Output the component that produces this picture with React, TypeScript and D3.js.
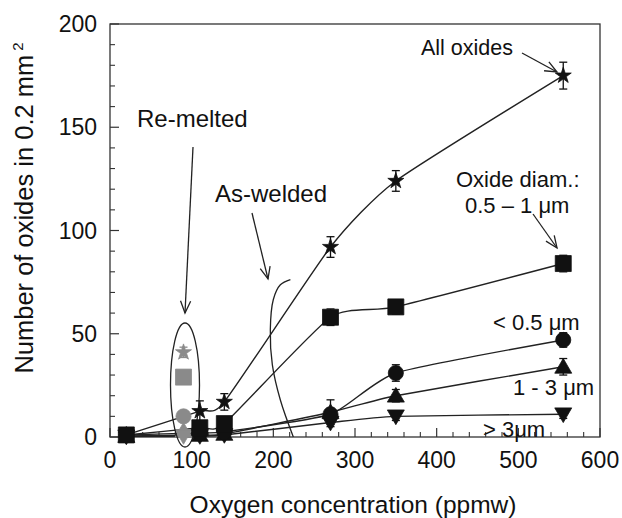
import React from "react";
import * as d3 from "d3";

// ---- data ----
const oxygen = [20, 110, 140, 270, 350, 555];
const allOxides = [1, 12.5, 17, 92, 124, 175];
const allOxidesErr = [0, 5, 4, 5, 5, 6.5];
const diam05to1 = [1, 4.5, 6.5, 58, 63, 84];
const diam05to1Err = [0, 3, 3, 4, 3.5, 4];
const diamBelow05 = [1, 2, 2.5, 11, 31, 47];
const diamBelow05Err = [0, 1, 1, 3, 4, 3.5];
const diam1to3 = [0.5, 1, 1.5, 12, 20, 34];
const diam1to3Err = [0, 1, 1, 6, 3, 4];
const diamAbove3 = [0.3, 0.5, 1, 7, 10, 11];
const diamAbove3Err = [0, 0.5, 0.5, 2, 2, 2];

const remeltedX = 90;
const remeltedValues = [41, 29, 10, 3, 0.5]; // star, square, circle, triangle, inverted triangle
const remeltedErr = [2.5, 0, 0, 0, 0];

const xTickValues = [0, 100, 200, 300, 400, 500, 600];
const yTickValues = [0, 50, 100, 150, 200];

// As-welded bracket curve (data coords)
const asWeldedX = [220.9, 208.6, 200, 196.3, 198.8, 208.6, 224.5];
const asWeldedY = [76.2, 73.7, 66.6, 51.9, 34.9, 17.9, 0];

const W = 622;
const H = 518;
const x = d3.scaleLinear().domain([0, 600]).range([110, 600]);
const y = d3.scaleLinear().domain([0, 200]).range([437, 24]);

type Shape = "star" | "square" | "circle" | "triangle" | "invtri";

const symbolPath = (shape: Shape): string => {
  switch (shape) {
    case "star":
      return d3.symbol(d3.symbolStar, 80)() as string;
    case "square":
      return d3.symbol(d3.symbolSquare, 256)() as string;
    case "circle":
      return d3.symbol(d3.symbolCircle, 180)() as string;
    case "triangle":
    case "invtri":
      return d3.symbol(d3.symbolTriangle, 125)() as string;
  }
};

const series: { vals: number[]; err: number[]; shape: Shape }[] = [
  { vals: diamAbove3, err: diamAbove3Err, shape: "invtri" },
  { vals: diam1to3, err: diam1to3Err, shape: "triangle" },
  { vals: diamBelow05, err: diamBelow05Err, shape: "circle" },
  { vals: allOxides, err: allOxidesErr, shape: "star" },
  { vals: diam05to1, err: diam05to1Err, shape: "square" },
];

const lineGen = d3
  .line<[number, number]>()
  .x((d) => x(d[0]))
  .y((d) => y(d[1]))
  .curve(d3.curveCardinal.tension(0.45));

const bracketGen = d3
  .line<[number, number]>()
  .x((d) => x(d[0]))
  .y((d) => y(d[1]))
  .curve(d3.curveCatmullRom);

const FONT = "'Liberation Sans', Arial, Helvetica, sans-serif";

function Arrow({ x1, y1, x2, y2 }: { x1: number; y1: number; x2: number; y2: number }) {
  const ang = Math.atan2(y2 - y1, x2 - x1);
  const L = 13;
  const a = 0.4;
  const p1 = [x2 - L * Math.cos(ang - a), y2 - L * Math.sin(ang - a)];
  const p2 = [x2 - L * Math.cos(ang + a), y2 - L * Math.sin(ang + a)];
  return (
    <g stroke="#222" strokeWidth={1.3} fill="none">
      <line x1={x1} y1={y1} x2={x2} y2={y2} />
      <polyline points={`${p1[0]},${p1[1]} ${x2},${y2} ${p2[0]},${p2[1]}`} />
    </g>
  );
}

function Marker({ cx, cy, shape, fill }: { cx: number; cy: number; shape: Shape; fill: string }) {
  const rot = shape === "invtri" ? 180 : 0;
  const dy = shape === "triangle" ? 1.5 : shape === "invtri" ? -1.5 : 0;
  return (
    <path
      d={symbolPath(shape)}
      transform={`translate(${cx},${cy + dy}) rotate(${rot})`}
      fill={fill}
      stroke={fill}
      strokeWidth={0.8}
    />
  );
}

function ErrBar({ cx, v, e, color }: { cx: number; v: number; e: number; color: string }) {
  if (e <= 0) return null;
  const top = y(v + e);
  const bot = y(Math.max(0, v - e));
  return (
    <g stroke={color} strokeWidth={1.3}>
      <line x1={cx} x2={cx} y1={top} y2={bot} />
      <line x1={cx - 4} x2={cx + 4} y1={top} y2={top} />
      <line x1={cx - 4} x2={cx + 4} y1={bot} y2={bot} />
    </g>
  );
}

export default function App() {
  const xMinor = d3.range(0, 601, 20).filter((v) => v % 100 !== 0);
  const yMinor = d3.range(0, 201, 10).filter((v) => v % 50 !== 0);
  const remeltedShapes: Shape[] = ["star", "square", "circle", "triangle", "invtri"];
  const gray = "#8a8a8a";

  return (
    <svg
      width={W}
      height={H}
      style={{ position: "absolute", left: 0, top: 0, background: "#fff" }}
      fontFamily={FONT}
    >
      <rect x={0} y={0} width={W} height={H} fill="#fff" />
      {/* frame */}
      <rect x={110} y={24} width={490} height={413} fill="none" stroke="#333" strokeWidth={1.3} />

      {/* y ticks */}
      {yTickValues.map((v) => (
        <g key={"yt" + v}>
          <line x1={110} x2={119} y1={y(v)} y2={y(v)} stroke="#333" strokeWidth={1.2} />
          <text x={97} y={y(v)} dy="0.35em" textAnchor="end" fontSize={23} fill="#111">
            {v}
          </text>
        </g>
      ))}
      {yMinor.map((v) => (
        <line key={"ym" + v} x1={110} x2={115} y1={y(v)} y2={y(v)} stroke="#333" strokeWidth={1.1} />
      ))}

      {/* x ticks */}
      {xTickValues.map((v) => (
        <g key={"xt" + v}>
          <line x1={x(v)} x2={x(v)} y1={437} y2={428} stroke="#333" strokeWidth={1.2} />
          <text x={x(v)} y={468} textAnchor="middle" fontSize={23} fill="#111">
            {v}
          </text>
        </g>
      ))}
      {xMinor.map((v) => (
        <line key={"xm" + v} x1={x(v)} x2={x(v)} y1={437} y2={432} stroke="#333" strokeWidth={1.1} />
      ))}

      {/* axis titles */}
      <text x={353} y={513} textAnchor="middle" fontSize={24.5} fill="#111">
        Oxygen concentration (ppmw)
      </text>
      <text transform="translate(33,208) rotate(-90)" textAnchor="middle" fontSize={25.5} fill="#111">
        Number of oxides in 0.2 mm
        <tspan fontSize={15} dx={4} dy={-10}>
          2
        </tspan>
      </text>

      {/* curves */}
      {series.map((s, i) => (
        <path
          key={"ln" + i}
          d={lineGen(oxygen.map((o, j) => [o, s.vals[j]] as [number, number])) as string}
          fill="none"
          stroke="#222"
          strokeWidth={1.4}
        />
      ))}

      {/* as-welded bracket */}
      <path
        d={bracketGen(asWeldedX.map((v, i) => [v, asWeldedY[i]] as [number, number])) as string}
        fill="none"
        stroke="#222"
        strokeWidth={1.3}
      />

      {/* re-melted ellipse and gray markers */}
      {remeltedShapes.map((sh, i) => (
        <g key={"rm" + i}>
          <ErrBar cx={x(remeltedX)} v={remeltedValues[i]} e={remeltedErr[i]} color={gray} />
          <Marker cx={x(remeltedX)} cy={y(remeltedValues[i])} shape={sh} fill={gray} />
        </g>
      ))}
      <ellipse cx={185} cy={385} rx={14.5} ry={62} fill="none" stroke="#222" strokeWidth={1.3} />

      {/* black markers */}
      {series.map((s, i) =>
        oxygen.map((o, j) => (
          <g key={`m${i}-${j}`}>
            <ErrBar cx={x(o)} v={s.vals[j]} e={s.err[j]} color="#111" />
            <Marker cx={x(o)} cy={y(s.vals[j])} shape={s.shape} fill="#111" />
          </g>
        ))
      )}

      {/* annotations */}
      <text x={137} y={127} fontSize={24} fill="#111">
        Re-melted
      </text>
      <Arrow x1={193} y1={147} x2={185} y2={313} />

      <text x={215} y={202} fontSize={24} fill="#111">
        As-welded
      </text>
      <Arrow x1={252} y1={213} x2={268} y2={279} />

      <text x={421} y={55} fontSize={21.5} fill="#111">
        All oxides
      </text>
      <Arrow x1={522} y1={53} x2={557} y2={72} />

      <text x={456} y={187} fontSize={22} fill="#111">
        Oxide diam.:
      </text>
      <text x={465} y={213} fontSize={22} fill="#111">
        0.5 – 1 μm
      </text>
      <Arrow x1={533} y1={214} x2={557} y2={248} />

      <text x={493} y={330} fontSize={22} fill="#111">
        {"< 0.5 μm"}
      </text>
      <text x={513} y={395} fontSize={22} fill="#111">
        1 - 3 μm
      </text>
      <text x={483} y={437} fontSize={22} fill="#111">
        {"> 3μm"}
      </text>
    </svg>
  );
}
